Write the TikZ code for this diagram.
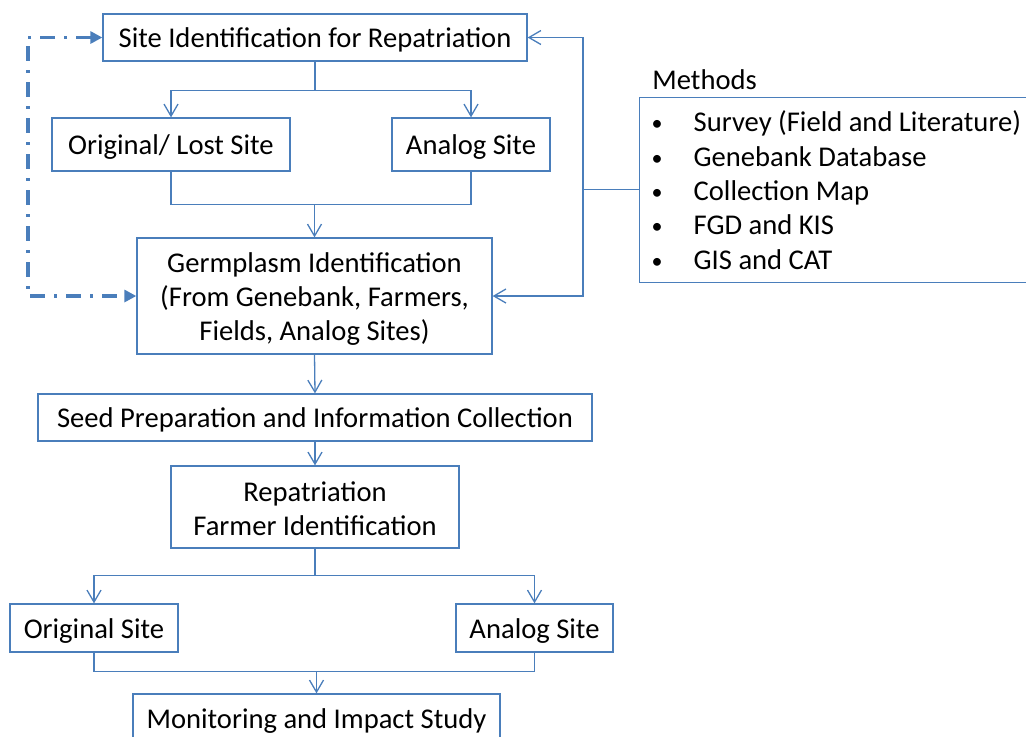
\documentclass[tikz,border=0pt]{standalone}
\usepackage{fontspec}
\setmainfont{Carlito}
\usetikzlibrary{arrows.meta}
\definecolor{lineblue}{RGB}{74,126,187}
\newcommand{\blt}{\makebox[21pt][l]{\raisebox{0.5pt}{\fontsize{11}{11}\selectfont •}}}
\newcommand{\mlines}[2]{\raisebox{#1}[\height][\depth]{\begin{tabular}{@{}c@{}}#2\end{tabular}}}
\tikzset{
  box/.style={draw=lineblue, line width=0.65pt, inner sep=0pt, align=center,
    text=black, font=\fontsize{14.3}{17}\selectfont, text height=13pt, text depth=3pt},
  mbox/.style={box, text height=, text depth=},
  conn/.style={draw=lineblue, line width=0.65pt},
  arr/.style={conn, -{Straight Barb[length=6pt,width=7pt]}},
  dd/.style={draw=lineblue, line width=1.6pt, dash pattern=on 7.5pt off 4.5pt on 1.5pt off 4.5pt,
    {Triangle[length=6pt,width=6pt]}-{Triangle[length=6pt,width=6pt]}},
}
\begin{document}
\begin{tikzpicture}[x=0.5pt,y=-0.5pt]
\useasboundingbox (0,0) rectangle (1026,736);
\clip (0,0) rectangle (1026,736);
% boxes
\node[box, minimum width=212pt, minimum height=23.5pt] (site) at (315,37.5) {Site Identification for Repatriation};
\node[box, minimum width=119pt, minimum height=26.5pt] (orig) at (171,144.5) {Original/ Lost Site};
\node[box, minimum width=79pt, minimum height=26.5pt] (analog) at (471,144.5) {Analog Site};
\node[mbox, minimum width=177.5pt, minimum height=58pt] (germ) at (314.5,296) {\mlines{-1.8pt}{Germplasm Identification\\(From Genebank, Farmers,\\Fields, Analog Sites)}};
\node[box, minimum width=277pt, minimum height=23.5pt] (seed) at (315,417.5) {Seed Preparation and Information Collection};
\node[mbox, minimum width=144pt, minimum height=41pt] (rep) at (315,507) {\mlines{-2.2pt}{Repatriation\\Farmer Identification}};
\node[box, minimum width=84pt, minimum height=24pt] (orig2) at (94,628) {Original Site};
\node[box, minimum width=78.5pt, minimum height=24pt] (analog2) at (534.5,628) {Analog Site};
\node[box, minimum width=183.5pt, minimum height=24pt] (mon) at (316.5,718) {Monitoring and Impact Study};
% methods
\node[anchor=west, inner sep=0pt, font=\fontsize{14.3}{17}\selectfont] (mlabel) at (652,80) {Methods};
\node[mbox, anchor=north west, text width=198pt, align=left, inner xsep=6pt, minimum height=92.5pt,
  font=\fontsize{14.3}{17.15}\selectfont] (methods) at (639,97) {\spaceskip=0pt\xspaceskip=0pt%
\mbox{\blt Survey (Field and Literature)}\\
\mbox{\blt Genebank Database}\\
\mbox{\blt Collection Map}\\
\mbox{\blt FGD and KIS}\\
\mbox{\blt GIS and CAT}};
% coordinates
\path (site.south) ++(0,29) coordinate (s1);
\path (germ.north) ++(0,-33) coordinate (j1);
\path (rep.south) ++(0,27) coordinate (r1);
\path (mon.north) ++(0,-22) coordinate (j2);
\coordinate (mv) at (583,189.5);
\coordinate (d2) at (28,296);
% connectors
\draw[conn] (site.south) -- (s1);
\draw[arr] (s1) -| (orig.north);
\draw[arr] (s1) -| (analog.north);
\draw[conn] (orig.south) |- (j1) -| (analog.south);
\draw[arr] (j1) -- (germ.north);
\draw[arr] (germ.south) -- (seed.north);
\draw[arr] (seed.south) -- (rep.north);
\draw[conn] (rep.south) -- (r1);
\draw[arr] (r1) -| (orig2.north);
\draw[arr] (r1) -| (analog2.north);
\draw[conn] (orig2.south) |- (j2) -| (analog2.south);
\draw[arr] (j2) -- (mon.north);
\draw[conn] (methods.west |- mv) -- (mv);
\draw[arr] (mv) |- (site.east);
\draw[arr] (mv) |- (germ.east);
\draw[dd] (site.west) -| (d2) -- (germ.west);
\end{tikzpicture}
\end{document}
